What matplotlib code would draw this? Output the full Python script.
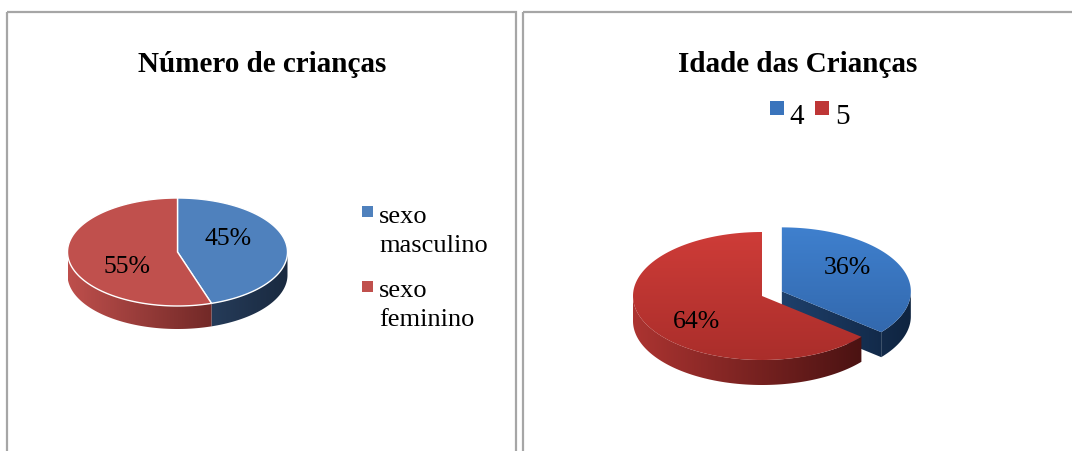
import numpy as np
import matplotlib
matplotlib.use('Agg')
import matplotlib.pyplot as plt
from matplotlib.patches import Polygon, Rectangle
from matplotlib.colors import LinearSegmentedColormap

plt.rcParams['font.family'] = ['Liberation Serif', 'DejaVu Serif']

# data
sex_title = 'Número de crianças'
sex_labels = ['sexo\nmasculino', 'sexo\nfeminino']
sex_values = [45, 55]

age_title = 'Idade das Crianças'
age_labels = ['4', '5']
age_values = [36, 64]

W, H = 1072, 452
fig = plt.figure(figsize=(W / 100, H / 100), dpi=100)
ax = fig.add_axes([0, 0, 1, 1])
ax.axis('off')


def arc(cx, cy, rx, ry, a0, a1, n=120):
    t = np.radians(np.linspace(a0, a1, n))
    return np.column_stack([cx + rx * np.cos(t), cy - ry * np.sin(t)])


def grad(poly, c0, c1, ext, horiz, z):
    patch = Polygon(poly, closed=True, fc='none', ec='none', zorder=z)
    ax.add_patch(patch)
    cmap = LinearSegmentedColormap.from_list('g', [c0, c1])
    g = np.linspace(0, 1, 256)
    arr = g[None, :] if horiz else g[:, None]
    im = ax.imshow(arr, cmap=cmap, extent=ext, origin='upper', aspect='auto',
                   zorder=z, interpolation='bilinear')
    im.set_clip_path(patch)


def pie3d(values, cx, cy, rx, ry, depth, tops, sides, explode,
          lab_shift, lab_r, edge=None):
    total = float(sum(values))
    angles = 90 - 360 * np.cumsum([0] + list(values)) / total
    slices = []
    for i in range(len(values)):
        a0, a1 = angles[i], angles[i + 1]
        mid = (a0 + a1) / 2
        sx = cx + explode[i] * rx * np.cos(np.radians(mid))
        sy = cy - explode[i] * ry * np.sin(np.radians(mid))
        slices.append((sy - ry * np.sin(np.radians(mid)), i, a0, a1, mid, sx, sy))
    slices.sort()
    z = 2
    for _, i, a0, a1, mid, sx, sy in slices:
        ext = [sx - rx, sx + rx, sy + ry + depth, sy - ry]
        s0, s1 = sides[i]
        # radial cut faces (only seen when slice is pulled out)
        if explode[i] > 0:
            for a, vis in ((a1, np.cos(np.radians(a1)) > 0.01),
                           (a0, np.cos(np.radians(a0)) < -0.01)):
                if vis:
                    px = sx + rx * np.cos(np.radians(a))
                    py = sy - ry * np.sin(np.radians(a))
                    grad([(sx, sy), (px, py), (px, py + depth), (sx, sy + depth)],
                         s0, s1, ext, True, z)
        # outer wall, front half only
        lo, hi = a1, a0
        for k in range(-2, 2):
            s = max(lo, -180 + 360 * k)
            e = min(hi, 360 * k)
            if e > s:
                top = arc(sx, sy, rx, ry, s, e)
                bot = top[::-1] + [0, depth]
                grad(np.vstack([top, bot]), s0, s1, ext, True, z)
        # top face
        poly = np.vstack([[sx, sy], arc(sx, sy, rx, ry, a0, a1)])
        if isinstance(tops[i], tuple):
            grad(poly, tops[i][0], tops[i][1], ext, False, z + 0.5)
        else:
            ax.add_patch(Polygon(poly, closed=True, fc=tops[i], ec='none', zorder=z + 0.5))
        if edge:
            ax.add_patch(Polygon(poly, closed=True, fc='none', ec=edge, lw=1.0, zorder=z + 0.6))
        # label
        la = np.radians(mid + lab_shift)
        ax.text(sx + lab_r * rx * np.cos(la), sy - lab_r * ry * np.sin(la),
                f'{values[i] / total * 100:.0f}%', ha='center', va='center',
                fontsize=18.5, zorder=20)
        z += 1


# panel frames
ax.add_patch(Rectangle((7, 13), 509, 470, fill=False, ec='#A6A6A6', lw=1.6, zorder=1))
ax.add_patch(Rectangle((523, 13), 600, 470, fill=False, ec='#A6A6A6', lw=1.6, zorder=1))

# left chart
ax.text(262, 72, sex_title, ha='center', va='baseline', fontsize=21,
        fontweight='bold')
left_tops = ['#4F81BD', '#C0504D']
left_sides = [('#3A5C88', '#1A2A40'), ('#BE4F4C', '#4A1514')]
pie3d(sex_values, 177.5, 253, 110, 54, 23, left_tops, left_sides, [0, 0],
      20, 0.53, edge='white')

for i, lab in enumerate(sex_labels):
    ax.add_patch(Rectangle((362, 207 + i * 75), 11, 11, fc=left_tops[i], ec='none'))
    for j, line in enumerate(lab.split('\n')):
        ax.text(379, 223 + i * 74 + j * 29, line, ha='left', va='baseline',
                fontsize=19)

# right chart
ax.text(798, 72, age_title, ha='center', va='baseline', fontsize=21,
        fontweight='bold')
right_tops = [('#3F80CE', '#2D5E9F'), ('#CE3C38', '#A32B28')]
right_sides = [('#2E5C96', '#0F2440'), ('#AC3431', '#3E0E0E')]
pie3d(age_values, 762, 297, 129, 64, 25, right_tops, right_sides, [0.17, 0],
      12, 0.64)

leg_cols = ['#3A74BC', '#BE3636']
for i, lab in enumerate(age_labels):
    ax.add_patch(Rectangle((770 + i * 45, 102), 14, 14, fc=leg_cols[i], ec='none'))
    ax.text(789 + i * 46, 124, lab, ha='left', va='baseline', fontsize=21)

ax.set_xlim(0, W)
ax.set_ylim(H, 0)
fig.savefig('out.png', dpi=100)
